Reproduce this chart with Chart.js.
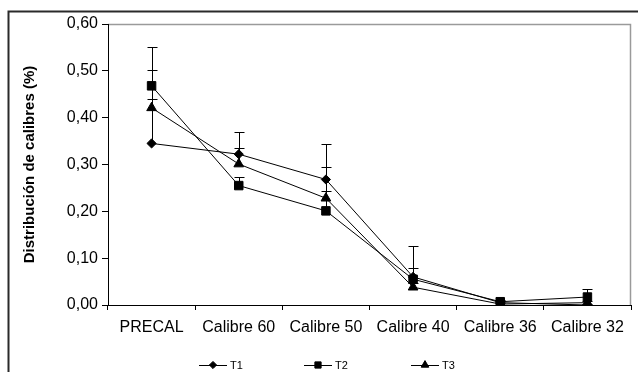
<!DOCTYPE html>
<html>
<head>
<meta charset="utf-8">
<script src="https://cdn.jsdelivr.net/npm/chart.js@4/dist/chart.umd.min.js"></script>
<style>
  html, body { margin: 0; padding: 0; background: #fff; }
  #wrap { width: 638px; height: 372px; position: relative; }
</style>
</head>
<body>
<div id="wrap"><canvas id="c" width="638" height="372"></canvas></div>
<script>
// Size-class distribution per treatment
const categories = ['PRECAL', 'Calibre 60', 'Calibre 50', 'Calibre 40', 'Calibre 36', 'Calibre 32'];
const seriesNames = ['T1', 'T2', 'T3'];

const t1 = [0.345, 0.322, 0.268, 0.060, 0.005, 0.000];
const t2 = [0.468, 0.255, 0.201, 0.055, 0.007, 0.017];
const t3 = [0.421, 0.301, 0.228, 0.038, 0.002, 0.005];

// Upper error amounts (one-sided bars)
const t1Err = [0.095, 0.048, 0.075, 0.067, 0.003, 0.002];
const t2Err = [0.082, 0.019, 0.094, 0.025, 0.004, 0.017];
const t3Err = [0.081, 0.035, 0.015, 0.008, 0.002, 0.003];

const yTicks = [0, 0.1, 0.2, 0.3, 0.4, 0.5, 0.6];

const FONT = "'Liberation Sans', Arial, sans-serif";
const pointStyles = ['rectRot', 'rect', 'triangle'];
const pointRadii = [4.6, 6, 5.6];
const legendRadii = [3.6, 4.4, 4.4];
const errors = [t1Err, t2Err, t3Err];

function fmt(v) { return v.toFixed(2).replace('.', ','); }

const decor = {
  id: 'decor',
  beforeDraw(chart) {
    const ctx = chart.ctx;
    const a = chart.chartArea;
    ctx.save();
    // outer frame
    ctx.strokeStyle = '#2a2a2a';
    ctx.lineWidth = 2;
    ctx.beginPath();
    ctx.moveTo(8.5, 372);
    ctx.lineTo(8.5, 11.5);
    ctx.lineTo(638, 11.5);
    ctx.stroke();
    // plot area top and right border
    ctx.strokeStyle = '#9a9a9a';
    ctx.lineWidth = 1.5;
    ctx.beginPath();
    ctx.moveTo(a.left, a.top + 0.5);
    ctx.lineTo(a.right - 0.5, a.top + 0.5);
    ctx.lineTo(a.right - 0.5, a.bottom);
    ctx.stroke();
    ctx.restore();
  },
  afterDatasetsDraw(chart) {
    const ctx = chart.ctx;
    const ys = chart.scales.y;
    ctx.save();
    ctx.strokeStyle = '#000';
    ctx.lineWidth = 1;
    chart.data.datasets.forEach((ds, i) => {
      const meta = chart.getDatasetMeta(i);
      meta.data.forEach((pt, j) => {
        const e = errors[i][j];
        if (!e) return;
        const x = Math.round(pt.x) + 0.5;
        const yTop = Math.round(ys.getPixelForValue(ds.data[j] + e)) + 0.5;
        ctx.beginPath();
        ctx.moveTo(x, pt.y);
        ctx.lineTo(x, yTop);
        ctx.moveTo(x - 5, yTop);
        ctx.lineTo(x + 5, yTop);
        ctx.stroke();
      });
    });
    ctx.restore();
  },
  afterDraw(chart) {
    // legend: line with marker, then label
    const ctx = chart.ctx;
    const yc = 365;
    const starts = [199, 304, 411];
    ctx.save();
    ctx.strokeStyle = '#000';
    ctx.fillStyle = '#000';
    ctx.lineWidth = 1;
    ctx.font = '11px ' + FONT;
    ctx.textBaseline = 'middle';
    chart.data.datasets.forEach((ds, i) => {
      const x0 = starts[i];
      ctx.beginPath();
      ctx.moveTo(x0, yc + 0.5);
      ctx.lineTo(x0 + 28, yc + 0.5);
      ctx.stroke();
      Chart.helpers.drawPoint(ctx, {
        pointStyle: pointStyles[i], radius: legendRadii[i], rotation: 0, borderWidth: 1
      }, x0 + 14, yc);
      ctx.fillText(ds.label, x0 + 31, yc + 1);
    });
    ctx.restore();
  }
};

const datasets = [t1, t2, t3].map((d, i) => ({
  label: seriesNames[i],
  data: d,
  borderColor: '#000',
  backgroundColor: '#000',
  borderWidth: 1,
  pointStyle: pointStyles[i],
  pointRadius: pointRadii[i],
  pointBorderWidth: 1,
  pointBackgroundColor: '#000',
  pointBorderColor: '#000',
  tension: 0,
  fill: false
}));

new Chart(document.getElementById('c'), {
  type: 'line',
  data: { labels: categories, datasets },
  plugins: [decor],
  options: {
    responsive: false,
    animation: false,
    devicePixelRatio: 1,
    layout: { padding: { top: 24, right: 1, left: 0, bottom: 0 } },
    plugins: { legend: { display: false }, tooltip: { enabled: false } },
    scales: {
      x: {
        type: 'category',
        offset: true,
        grid: { offset: true, drawOnChartArea: false, drawTicks: true, tickLength: 5, color: '#000' },
        border: { color: '#000', width: 1 },
        ticks: { color: '#000', font: { family: FONT, size: 16 }, padding: 8, maxRotation: 0, autoSkip: false },
        afterFit(s) { s.height = 67; }
      },
      y: {
        min: 0,
        max: 0.6,
        afterBuildTicks(s) { s.ticks = yTicks.map(v => ({ value: v })); },
        grid: { drawOnChartArea: false, drawTicks: true, tickLength: 6, color: '#000' },
        border: { color: '#000', width: 1 },
        ticks: { color: '#000', font: { family: FONT, size: 16 }, padding: 4, callback: v => fmt(v) },
        title: {
          display: true,
          text: 'Distribución de calibres (%)',
          color: '#000',
          font: { family: FONT, size: 15, weight: 'bold' },
          padding: { top: 21, bottom: 0 }
        },
        afterFit(s) { s.width = 108; }
      }
    }
  }
});
</script>
</body>
</html>
